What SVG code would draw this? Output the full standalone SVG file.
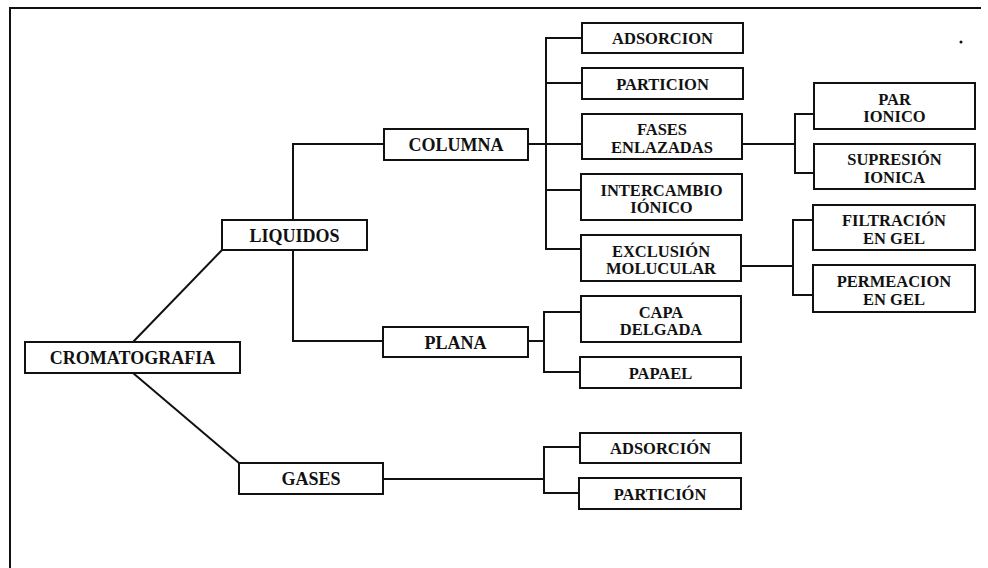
<svg xmlns="http://www.w3.org/2000/svg" width="988" height="568" viewBox="0 0 988 568">
<style>
rect{fill:#fff;stroke:#111;stroke-width:2}
.c path{fill:none;stroke:#111;stroke-width:2}
text{font-family:"Liberation Serif","Times New Roman",serif;fill:#111;text-anchor:middle}
.m text{font-size:18px;font-weight:bold}
.b text{font-size:16.5px;font-weight:bold}
</style>
<rect x="0" y="0" width="988" height="568" style="stroke:none;fill:#fff"/>
<path d="M10 568V8H981" fill="none" stroke="#111" stroke-width="2"/>
<circle cx="961" cy="42" r="1.5" fill="#111"/>
<g class="c" id="connectors">
<path d="M133 342L222 250"/>
<path d="M133 373L239 463"/>
<path d="M384 144H293V220M293 250V341H383"/>
<path d="M528 144H582M582 38H546V249H581M546 83H582M546 190H581"/>
<path d="M742 144H795M814 114H795V173H814"/>
<path d="M741 266H793M813 220H793V295H813"/>
<path d="M528 341H544M581 312H544V372H580"/>
<path d="M383 479H544M580 447H544V493H579"/>
</g>
<g class="m">
<g id="cromatografia"><rect x="25" y="342" width="215" height="31"/><text x="132.5" y="364">CROMATOGRAFIA</text></g>
<g id="liquidos"><rect x="222" y="220" width="145" height="30"/><text x="294.5" y="241.5">LIQUIDOS</text></g>
<g id="gases"><rect x="239" y="463" width="144" height="31"/><text x="311" y="485">GASES</text></g>
<g id="columna"><rect x="384" y="129" width="144" height="31"/><text x="456" y="151">COLUMNA</text></g>
<g id="plana"><rect x="383" y="327" width="145" height="30"/><text x="455.5" y="348.5">PLANA</text></g>
</g>
<g class="b">
<g id="adsorcion-col"><rect x="582" y="23" width="161" height="30"/><text x="662.5" y="44">ADSORCION</text></g>
<g id="particion-col"><rect x="582" y="68" width="161" height="31"/><text x="662.5" y="89.5">PARTICION</text></g>
<g id="fases-enlazadas"><rect x="582" y="114" width="160" height="45"/><text x="662" y="135">FASES</text><text x="662" y="152.5">ENLAZADAS</text></g>
<g id="intercambio-ionico"><rect x="581" y="174" width="161" height="46"/><text x="661.5" y="195.5">INTERCAMBIO</text><text x="661.5" y="213">IÓNICO</text></g>
<g id="exclusion-molucular"><rect x="581" y="235" width="160" height="46"/><text x="661" y="256.5">EXCLUSIÓN</text><text x="661" y="274">MOLUCULAR</text></g>
<g id="capa-delgada"><rect x="581" y="296" width="160" height="46"/><text x="661" y="317.5">CAPA</text><text x="661" y="335">DELGADA</text></g>
<g id="papael"><rect x="580" y="357" width="161" height="31"/><text x="660.5" y="378.5">PAPAEL</text></g>
<g id="adsorcion-gas"><rect x="580" y="433" width="161" height="30"/><text x="660.5" y="454">ADSORCIÓN</text></g>
<g id="particion-gas"><rect x="579" y="478" width="162" height="31"/><text x="660" y="499.5">PARTICIÓN</text></g>
<g id="par-ionico"><rect x="814" y="83" width="161" height="46"/><text x="894.5" y="104.5">PAR</text><text x="894.5" y="122">IONICO</text></g>
<g id="supresion-ionica"><rect x="814" y="144" width="161" height="45"/><text x="894.5" y="165">SUPRESIÓN</text><text x="894.5" y="182.5">IONICA</text></g>
<g id="filtracion-gel"><rect x="813" y="205" width="162" height="45"/><text x="894" y="226">FILTRACIÓN</text><text x="894" y="243.5">EN GEL</text></g>
<g id="permeacion-gel"><rect x="813" y="265" width="162" height="47"/><text x="894" y="287">PERMEACION</text><text x="894" y="304.5">EN GEL</text></g>
</g>
</svg>
